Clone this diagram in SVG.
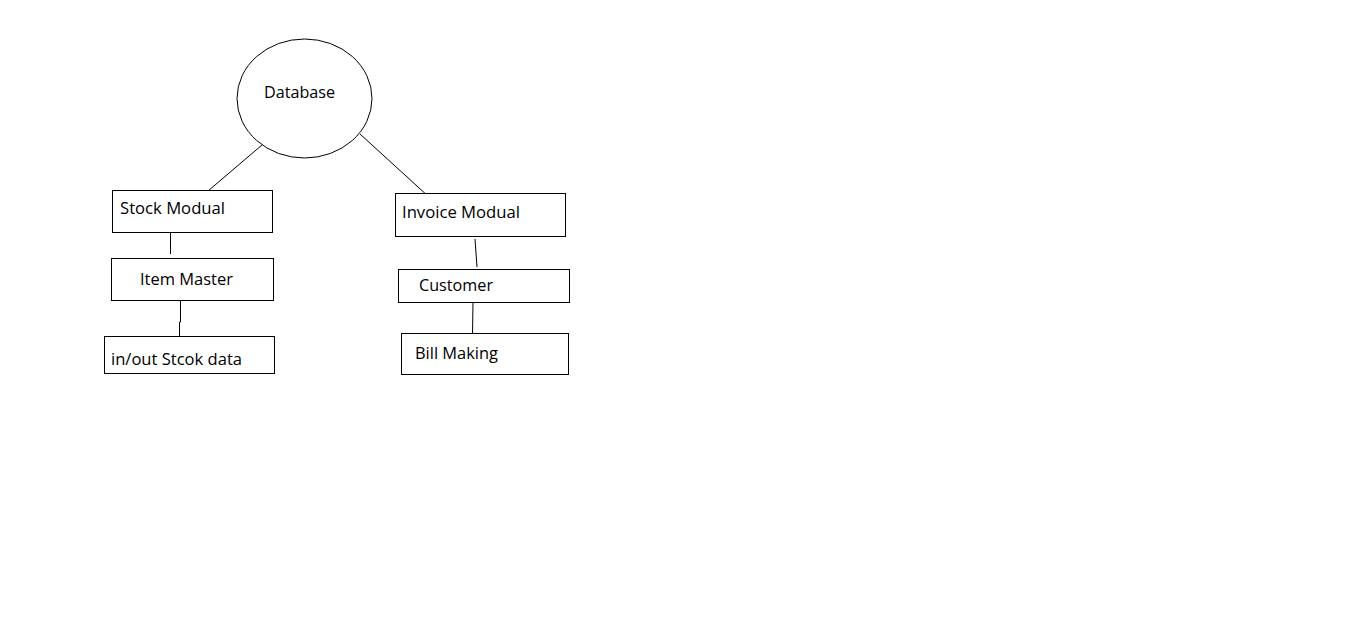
<svg xmlns="http://www.w3.org/2000/svg" width="1360" height="623" viewBox="0 0 1360 623">
  <style>
    .box { fill: #ffffff; stroke: #000000; stroke-width: 1; }
    .lbl { font-family: "Open Sans", "Noto Sans", "Liberation Sans", sans-serif; font-size: 16px; fill: #000000; }
    .edge { fill: none; stroke: #000000; stroke-width: 1; }
  </style>
  <rect width="1360" height="623" fill="#ffffff"/>

  <g id="connectors">
    <line class="edge" x1="262" y1="145" x2="208" y2="191"/>
    <line class="edge" x1="360" y1="134" x2="429" y2="197"/>
    <line class="edge" x1="170.5" y1="232" x2="170.5" y2="254"/>
    <polyline class="edge" points="180.5,300 180.5,322 179.5,322 179.5,342"/>
    <line class="edge" x1="475" y1="239" x2="477" y2="267"/>
    <line class="edge" x1="473" y1="302" x2="472.5" y2="334"/>
  </g>

  <g id="database">
    <ellipse class="box" cx="304.5" cy="98.5" rx="67.5" ry="59.5"/>
    <text class="lbl" x="264" y="98" textLength="71" lengthAdjust="spacingAndGlyphs">Database</text>
  </g>

  <g id="stock-modual">
    <rect class="box" x="112.5" y="190.5" width="160" height="42"/>
    <text class="lbl" x="120" y="214" textLength="105" lengthAdjust="spacingAndGlyphs">Stock Modual</text>
  </g>

  <g id="item-master">
    <rect class="box" x="111.5" y="258.5" width="162" height="42"/>
    <text class="lbl" x="140" y="285" textLength="93" lengthAdjust="spacingAndGlyphs">Item Master</text>
  </g>

  <g id="inout-stock-data">
    <rect class="box" x="104.5" y="336.5" width="170" height="37"/>
    <text class="lbl" x="111" y="365" textLength="131" lengthAdjust="spacingAndGlyphs">in/out Stcok data</text>
  </g>

  <g id="invoice-modual">
    <rect class="box" x="395.5" y="193.5" width="170" height="43"/>
    <text class="lbl" x="402" y="218" textLength="118" lengthAdjust="spacingAndGlyphs">Invoice Modual</text>
  </g>

  <g id="customer">
    <rect class="box" x="398.5" y="269.5" width="171" height="33"/>
    <text class="lbl" x="419" y="291" textLength="74" lengthAdjust="spacingAndGlyphs">Customer</text>
  </g>

  <g id="bill-making">
    <rect class="box" x="401.5" y="333.5" width="167" height="41"/>
    <text class="lbl" x="415" y="359" textLength="83" lengthAdjust="spacingAndGlyphs">Bill Making</text>
  </g>
</svg>
